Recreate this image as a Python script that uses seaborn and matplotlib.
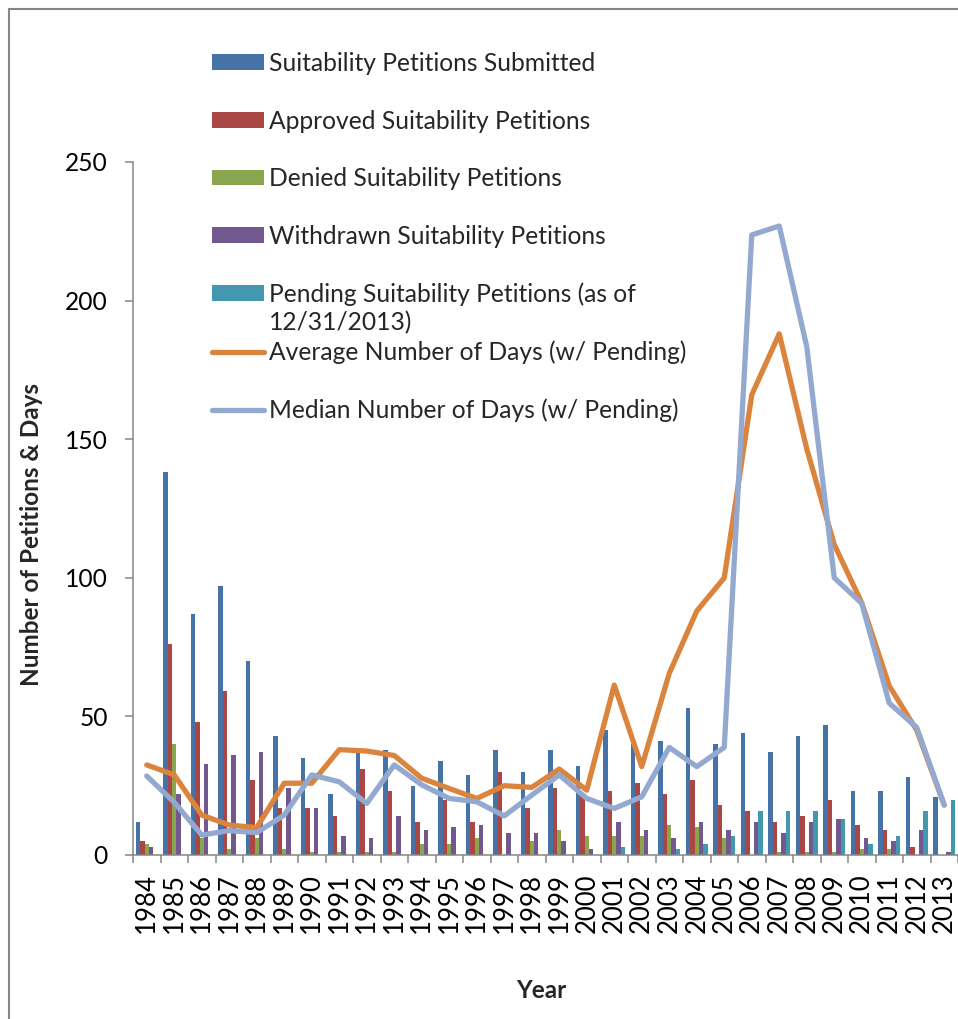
import numpy as np
import pandas as pd
import matplotlib
matplotlib.use("Agg")
import matplotlib.pyplot as plt
import seaborn as sns
from matplotlib.patches import Patch
from matplotlib.lines import Line2D

# ---------------- data ----------------
years = [str(y) for y in range(1984, 2014)]
submitted = [12, 138, 87, 97, 70, 43, 35, 22, 38, 38, 25, 34, 29, 38, 30,
             38, 32, 45, 40, 41, 53, 40, 44, 37, 43, 47, 23, 23, 28, 21]
approved = [5, 76, 48, 59, 27, 17, 17, 14, 31, 23, 12, 20, 12, 30, 17,
            24, 22, 23, 26, 22, 27, 18, 16, 12, 14, 20, 11, 9, 3, 0]
denied = [4, 40, 6, 2, 6, 2, 1, 1, 1, 1, 4, 4, 6, 0, 5,
          9, 7, 7, 7, 11, 10, 6, 0, 1, 1, 1, 2, 2, 0, 0]
withdrawn = [3, 22, 33, 36, 37, 24, 17, 7, 6, 14, 9, 10, 11, 8, 8,
             5, 2, 12, 9, 6, 12, 9, 12, 8, 12, 13, 6, 5, 9, 1]
pending = [0, 0, 0, 0, 0, 0, 0, 0, 0, 0, 0, 0, 0, 0, 0,
           0, 0, 3, 0, 2, 4, 7, 16, 16, 16, 13, 4, 7, 16, 20]
avg_days = [32.5, 28.9, 14.4, 10.8, 9.9, 25.9, 25.9, 38.0, 37.5, 35.9, 27.7, 24.0, 20.4, 25.0, 24.4,
            31.0, 23.4, 61.3, 31.9, 65.5, 88.0, 100.0, 166.0, 188.0, 146.5, 112.0, 91.0, 61.0, 45.0, 18.0]
median_days = [28.5, 19.0, 7.2, 8.8, 8.1, 14.4, 28.9, 26.4, 18.6, 32.5, 25.3, 20.4, 19.2, 14.1, 21.6,
               28.9, 20.4, 16.8, 21.0, 38.8, 31.9, 38.8, 223.7, 226.9, 183.4, 100.0, 90.8, 54.8, 46.0, 18.0]

bar_series = ["Suitability Petitions Submitted", "Approved Suitability Petitions",
              "Denied Suitability Petitions", "Withdrawn Suitability Petitions",
              "Pending Suitability Petitions (as of 12/31/2013)"]
line_series = ["Average Number of Days (w/ Pending)", "Median Number of Days (w/ Pending)"]
yticks = [0, 50, 100, 150, 200, 250]

bar_colors = ["#4572A7", "#AA4643", "#89A54E", "#71588F", "#4198AF"]
avg_color = "#DB843D"
med_color = "#93A9CF"
axis_gray = "#868686"

# ---------------- style ----------------
sns.set_theme(style="white")
plt.rcParams['font.family'] = ['Lato', 'DejaVu Sans']
FS = 17.7

W, H = 958, 1019
fig = plt.figure(figsize=(W / 100, H / 100), dpi=100)
fig.patch.set_facecolor("white")
ax_left, ax_right, ax_top, ax_bottom = 133, 958, 162, 855
ax = fig.add_axes([ax_left / W, 1 - ax_bottom / H, (ax_right - ax_left) / W, (ax_bottom - ax_top) / H])

df = pd.DataFrame({
    "Year": np.tile(years, 5),
    "Series": np.repeat(bar_series, len(years)),
    "Value": np.concatenate([submitted, approved, denied, withdrawn, pending]),
})

sns.barplot(data=df, x="Year", y="Value", hue="Series", hue_order=bar_series,
            palette=bar_colors, saturation=1, width=0.8, linewidth=0,
            legend=False, ax=ax, zorder=2)

sns.pointplot(x=years, y=avg_days, color=avg_color, marker="", linewidth=3.8,
              errorbar=None, ax=ax, zorder=4, solid_joinstyle="round", solid_capstyle="round")
sns.pointplot(x=years, y=median_days, color=med_color, marker="", linewidth=3.8,
              errorbar=None, ax=ax, zorder=5, solid_joinstyle="round", solid_capstyle="round")

# ---------------- axes ----------------
ax.set_xlim(-0.5, len(years) - 0.5)
ax.set_ylim(0, 250)
ax.set_yticks(yticks)
ax.set_yticklabels([str(v) for v in yticks])
ax.set_xticks(range(len(years)))
ax.set_xticklabels(years, rotation=90)
ax.set_xticks(np.arange(-0.5, len(years), 1.0), minor=True)

for s in ["top", "right"]:
    ax.spines[s].set_visible(False)
for s in ["left", "bottom"]:
    ax.spines[s].set_color(axis_gray)
    ax.spines[s].set_linewidth(1.1)

ax.tick_params(axis="y", which="major", left=True, length=6, width=1.1, color=axis_gray,
               pad=12, labelsize=FS, labelcolor="black")
ax.tick_params(axis="x", which="major", bottom=True, length=0, pad=13, labelsize=18.5, labelcolor="black")
ax.tick_params(axis="x", which="minor", bottom=True, length=6, width=1.1, color=axis_gray)

ax.set_ylabel("Number of Petitions & Days", fontsize=17.5, fontweight="bold", va="center")
ax.yaxis.set_label_coords((32 - ax_left) / (ax_right - ax_left), (ax_bottom - 535) / (ax_bottom - ax_top))
ax.set_xlabel("Year", fontsize=17.5, fontweight="bold", va="center")
ax.xaxis.set_label_coords((541 - ax_left) / (ax_right - ax_left), (ax_bottom - 991) / (ax_bottom - ax_top))

# ---------------- legend ----------------
handles = [Patch(facecolor=c, edgecolor="none") for c in bar_colors]
handles += [Line2D([], [], color=avg_color, lw=3.8, solid_capstyle="round"),
            Line2D([], [], color=med_color, lw=3.8, solid_capstyle="round")]
labels = bar_series[:4] + ["Pending Suitability Petitions (as of"] + line_series
leg = ax.legend(handles, labels, loc="upper left", bbox_to_anchor=(212 / W, 1 - 52 / H),
                bbox_transform=fig.transFigure, frameon=False, fontsize=FS,
                handlelength=2.11, handleheight=0.61, handletextpad=0.2,
                labelspacing=1.405, borderaxespad=0, borderpad=0)

# wrapped continuation of the "Pending" legend label
fig.canvas.draw()
bb = leg.get_texts()[4].get_window_extent(fig.canvas.get_renderer())
fig.text(bb.x0 / W, (bb.y0 + bb.y1) / 2 / H - 29 / H, "12/31/2013)", ha="left", va="center",
         fontsize=FS)

# chart-area border (left and top edges visible in the crop)
fig.add_artist(Line2D([8.5 / W, 8.5 / W], [0, 1 - 9 / H], transform=fig.transFigure,
                      color=axis_gray, lw=1.5))
fig.add_artist(Line2D([8.5 / W, 1], [1 - 9 / H, 1 - 9 / H], transform=fig.transFigure,
                      color=axis_gray, lw=1.5))

fig.savefig("out.png", dpi=100, facecolor="white")
